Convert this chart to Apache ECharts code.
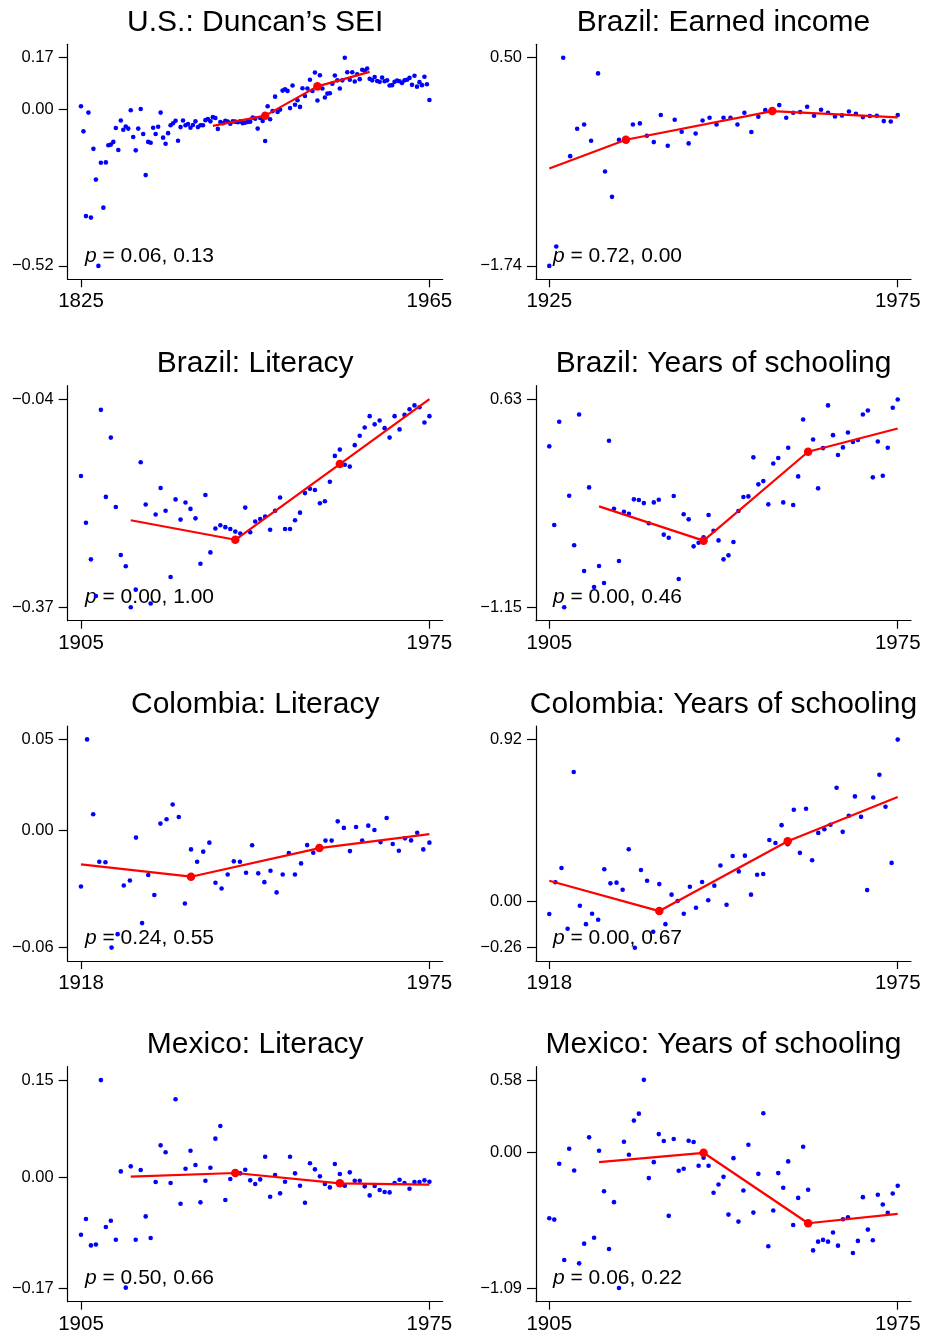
<!DOCTYPE html>
<html><head><meta charset="utf-8">
<script src="https://cdn.jsdelivr.net/npm/echarts@6/dist/echarts.min.js"></script>
<style>html,body{margin:0;padding:0;background:#fff}#c{width:926px;height:1334px}</style>
</head><body><div id="c"></div>
<script>
// ---------- DATA ----------
const titles = ['U.S.: Duncan\u2019s SEI','Brazil: Earned income','Brazil: Literacy','Brazil: Years of schooling',
  'Colombia: Literacy','Colombia: Years of schooling','Mexico: Literacy','Mexico: Years of schooling'];
const yearRanges = [[1825,1965],[1925,1975],[1905,1975],[1905,1975],[1918,1975],[1918,1975],[1905,1975],[1905,1975]];
const pLabels = ['0.06, 0.13','0.72, 0.00','0.00, 1.00','0.00, 0.46','0.24, 0.55','0.00, 0.67','0.50, 0.66','0.06, 0.22'];

const usSEI = [0.009,-0.074,-0.355,-0.012,-0.360,-0.132,-0.234,-0.520,-0.178,-0.327,
 -0.177,-0.120,-0.118,-0.109,-0.063,-0.136,-0.038,-0.069,-0.058,-0.065,
 -0.004,-0.093,-0.137,-0.065,0.000,-0.083,-0.219,-0.109,-0.112,-0.062,
 -0.083,-0.059,-0.012,-0.095,-0.115,-0.080,-0.054,-0.047,-0.039,-0.105,
 -0.060,-0.038,-0.054,-0.050,-0.062,-0.053,-0.041,-0.060,-0.054,-0.054,
 -0.037,-0.033,-0.041,-0.027,-0.030,-0.066,-0.043,-0.047,-0.039,-0.042,
 -0.049,-0.041,-0.042,-0.044,-0.041,-0.047,-0.045,-0.043,-0.042,-0.028,
 -0.032,-0.065,-0.030,-0.040,-0.106,0.009,-0.034,-0.007,0.041,-0.010,
 -0.002,0.061,0.065,0.060,0.003,0.078,0.014,0.029,0.007,0.069,
 0.043,0.068,0.097,0.060,0.121,0.028,0.112,0.068,0.038,0.051,
 0.052,0.084,0.111,0.095,0.068,0.095,0.170,0.122,0.097,0.122,
 0.091,0.115,0.099,0.130,0.127,0.134,0.100,0.095,0.106,0.093,
 0.090,0.104,0.092,0.095,0.078,0.079,0.090,0.094,0.092,0.086,
 0.095,0.097,0.103,0.080,0.110,0.074,0.089,0.079,0.107,0.082,0.030];
const brIncome = [-1.74,-1.532,0.50,-0.559,-0.265,-0.218,-0.394,0.331,-0.724,-0.997,-0.383,
 -0.383,-0.218,-0.207,-0.340,-0.408,-0.117,-0.448,-0.168,-0.297,-0.422,
 -0.315,-0.175,-0.146,-0.218,-0.146,-0.146,-0.218,-0.092,-0.300,-0.135,
 -0.064,-0.074,-0.010,-0.146,-0.092,-0.085,-0.028,-0.125,-0.060,-0.092,
 -0.132,-0.121,-0.078,-0.103,-0.139,-0.128,-0.125,-0.182,-0.186,-0.117];
const brLiteracy = [-0.162,-0.236,-0.294,-0.352,-0.057,-0.195,-0.101,-0.211,-0.287,-0.305,
 -0.370,-0.342,-0.140,-0.207,-0.364,-0.223,-0.181,-0.217,-0.322,-0.199,
 -0.231,-0.204,-0.214,-0.229,-0.301,-0.192,-0.283,-0.245,-0.240,-0.243,
 -0.246,-0.250,-0.253,-0.212,-0.251,-0.234,-0.230,-0.226,-0.247,-0.217,
 -0.196,-0.246,-0.246,-0.232,-0.220,-0.189,-0.182,-0.184,-0.205,-0.202,
 -0.171,-0.130,-0.120,-0.144,-0.147,-0.113,-0.098,-0.085,-0.067,-0.080,
 -0.074,-0.086,-0.101,-0.067,-0.088,-0.065,-0.056,-0.050,-0.053,-0.077,-0.067];
const brSchooling = [0.226,-0.447,0.436,-1.150,-0.196,-0.620,0.499,-0.840,-0.125,-0.976,
 -0.797,-0.942,0.274,-0.307,-0.754,-0.333,-0.350,-0.227,-0.233,-0.259,
 -0.432,-0.253,-0.230,-0.529,-0.555,-0.199,-0.908,-0.355,-0.398,-0.629,
 -0.598,-0.552,-0.361,-0.495,-0.578,-0.740,-0.706,-0.592,-0.327,-0.207,
 -0.202,0.132,-0.099,-0.071,-0.270,0.080,0.126,-0.253,0.214,-0.276,
 -0.031,0.456,0.183,0.285,-0.133,0.211,0.576,0.322,0.152,0.217,
 0.345,0.263,0.280,0.499,0.533,-0.039,0.268,-0.025,0.214,0.556,0.627];
const coLiteracy = [-0.0300,0.0486,0.0086,-0.0168,-0.0171,-0.0627,-0.0555,-0.0295,-0.0268,-0.0039,
 -0.0496,-0.0239,-0.0346,0.0036,0.0059,0.0138,0.0071,-0.0391,-0.0102,-0.0168,
 -0.0114,-0.0066,-0.0280,-0.0311,-0.0236,-0.0166,-0.0168,-0.0227,-0.0080,-0.0230,
 -0.0277,-0.0216,-0.0332,-0.0236,-0.0121,-0.0236,-0.0177,-0.0079,-0.0120,-0.0086,
 -0.0055,-0.0055,0.0048,0.0013,-0.0111,0.0018,-0.0055,0.0025,0.0002,-0.0063,
 0.0066,-0.0073,-0.0109,-0.0043,-0.0054,-0.0013,-0.0102,-0.0066];
const coSchooling = [-0.070,0.110,0.191,-0.153,0.735,-0.023,-0.127,-0.068,-0.102,0.184,
 0.104,0.108,0.068,0.297,-0.261,0.180,0.119,-0.170,0.100,-0.127,
 0.040,0.004,-0.068,0.085,-0.034,0.112,0.008,0.091,0.205,-0.017,
 0.259,0.172,0.261,0.040,0.153,0.157,0.350,0.333,0.434,0.326,
 0.521,0.277,0.527,0.235,0.390,0.411,0.436,0.646,0.396,0.487,
 0.597,0.481,0.066,0.591,0.720,0.538,0.220,0.919];
const mxLiteracy = [-0.0877,-0.0636,-0.1041,-0.1026,0.1500,-0.0759,-0.0662,-0.0954,0.0097,-0.1690,
 0.0174,-0.0954,0.0118,-0.0595,-0.0928,-0.0067,0.0497,0.0390,-0.0082,0.1205,
 -0.0400,0.0138,0.0415,0.0195,-0.0379,-0.0046,0.0154,0.0600,0.0795,-0.0344,
 -0.0021,0.0072,0.0067,0.0123,-0.0041,-0.0097,-0.0026,0.0323,-0.0292,0.0041,
 -0.0241,-0.0062,0.0323,0.0067,-0.0123,-0.0385,0.0221,0.0128,0.0021,-0.0097,
 -0.0149,0.0210,0.0056,-0.0123,0.0082,-0.0046,-0.0046,-0.0133,-0.0272,-0.0128,
 -0.0190,-0.0221,-0.0226,-0.0082,-0.0031,-0.0082,-0.0169,-0.0067,-0.0067,-0.0041,-0.0062];
const mxSchooling = [-0.528,-0.539,-0.091,-0.863,0.029,-0.145,-0.890,-0.732,0.121,-0.684,
 0.013,-0.311,-0.775,-0.399,-1.088,0.086,-0.019,0.255,0.311,0.582,
 -0.206,-0.078,0.147,0.091,-0.509,0.107,-0.147,-0.131,0.094,0.083,
 -0.107,-0.043,-0.107,-0.324,-0.257,-0.196,-0.499,-0.046,-0.555,-0.306,
 0.062,-0.483,-0.172,0.314,-0.753,-0.466,-0.166,-0.284,-0.072,-0.582,
 -0.365,0.046,-0.300,-0.786,-0.716,-0.702,-0.716,-0.643,-0.748,-0.536,
 -0.520,-0.807,-0.710,-0.359,-0.619,-0.705,-0.340,-0.418,-0.485,-0.330,-0.268];

// piecewise fits: x (years) and y values; middle two are the breakpoints
const fitYears = [[1878,1899,1920,1941],[1925,1936,1957,1975],[1915,1936,1957,1975],[1915,1936,1957,1975],
  [1918,1936,1957,1975],[1918,1936,1957,1975],[1915,1936,1957,1975],[1915,1936,1957,1975]];
const fitUS = [-0.056,-0.022,0.075,0.123];
const fitBrIncome = [-0.692,-0.383,-0.074,-0.142];
const fitBrLiteracy = [-0.232,-0.263,-0.143,-0.040];
const fitBrSchooling = [-0.287,-0.580,0.180,0.379];
const fitCoLiteracy = [-0.0182,-0.0248,-0.0095,-0.0020];
const fitCoSchooling = [0.119,-0.053,0.343,0.593];
const fitMxLiteracy = [0.0015,0.0072,-0.0087,-0.0108];
const fitMxSchooling = [-0.078,-0.003,-0.568,-0.493];

// y-axis tick values (labels are these rounded to 2 decimals)
const yTicks = [[-0.52,0,0.17],[-1.74,0.50],[-0.37,-0.04],[-1.15,0.63],
  [-0.0627,0,0.0486],[-0.26,0,0.92],[-0.17,0,0.15],[-1.09,0,0.58]];

const seriesValues = [usSEI,brIncome,brLiteracy,brSchooling,coLiteracy,coSchooling,mxLiteracy,mxSchooling];
const fitValues = [fitUS,fitBrIncome,fitBrLiteracy,fitBrSchooling,fitCoLiteracy,fitCoSchooling,fitMxLiteracy,fitMxSchooling];

// ---------- LAYOUT ----------
const FONT = '"Liberation Sans", Arial, Helvetica, sans-serif';
const colLeft = [67.7, 536];
const rowTop = [44.3, 385.7, 726, 1066.7];
const W = 375, H = 235;
const XPAD = 0.0381, YPAD = 0.0644;

const chart = echarts.init(document.getElementById('c'), null, {renderer:'canvas'});
const option = {animation:false, backgroundColor:'#fff', grid:[], xAxis:[], yAxis:[], series:[], graphic:[]};
const fmtY = v => v.toFixed(2).replace('-', '\u2212');

titles.forEach((t, k) => {
  const r = Math.floor(k/2), c = k % 2;
  const left = colLeft[c], top = rowTop[r];
  const [x0, x1] = yearRanges[k];
  const ticks = yTicks[k];
  const ymin = Math.min(...ticks), ymax = Math.max(...ticks);
  const xp = (x1 - x0) * XPAD, yp = (ymax - ymin) * YPAD;
  option.grid.push({left, top, width: W, height: H, containLabel:false, outerBoundsMode:'none'});
  option.xAxis.push({type:'value', gridIndex:k, min:x0 - xp, max:x1 + xp,
    axisLine:{show:true, onZero:false, lineStyle:{color:'#000', width:1.2}},
    axisTick:{show:true, inside:false, length:8, lineStyle:{color:'#000', width:1.2}, customValues:[x0, x1]},
    axisLabel:{show:true, customValues:[x0, x1], fontSize:20.5, color:'#000', fontFamily:FONT, margin:12,
      formatter: v => String(Math.round(v))},
    splitLine:{show:false}});
  option.yAxis.push({type:'value', gridIndex:k, min:ymin - yp, max:ymax + yp,
    axisLine:{show:true, onZero:false, lineStyle:{color:'#000', width:1.2}},
    axisTick:{show:true, inside:false, length:9, lineStyle:{color:'#000', width:1.2}, customValues:ticks},
    axisLabel:{show:true, customValues:ticks, fontSize:16.5, color:'#000', fontFamily:FONT, margin:14, formatter: fmtY},
    splitLine:{show:false}});
  option.series.push({type:'scatter', xAxisIndex:k, yAxisIndex:k, symbol:'circle', symbolSize:4.6,
    itemStyle:{color:'#0000ff', opacity:1}, z:2, silent:true,
    data: seriesValues[k].map((v, i) => [x0 + i, v])});
  option.series.push({type:'line', xAxisIndex:k, yAxisIndex:k, symbol:'none', z:3, silent:true,
    lineStyle:{color:'#ff0000', width:2.2},
    data: fitYears[k].map((x, i) => [x, fitValues[k][i]])});
  option.series.push({type:'scatter', xAxisIndex:k, yAxisIndex:k, symbol:'circle', symbolSize:8.5, z:4, silent:true,
    itemStyle:{color:'#ff0000', opacity:1},
    data: [1, 2].map(i => [fitYears[k][i], fitValues[k][i]])});
  option.graphic.push({type:'text', x: left + W/2, y: 23 + 340.7*r, silent:true,
    style:{text:t, font:'30px ' + FONT, fill:'#000', textAlign:'center', textVerticalAlign:'middle'}});
  option.graphic.push({type:'text', x: (c === 0 ? 85 : 553), y: 256.5 + 340.7*r, silent:true,
    style:{text:'{i|p} = ' + pLabels[k], font:'21px ' + FONT, fill:'#000', textAlign:'left', textVerticalAlign:'middle',
      rich:{i:{fontStyle:'italic', fontSize:21, fontFamily:FONT, fill:'#000'}}}});
});
chart.setOption(option);
</script>
</body></html>
